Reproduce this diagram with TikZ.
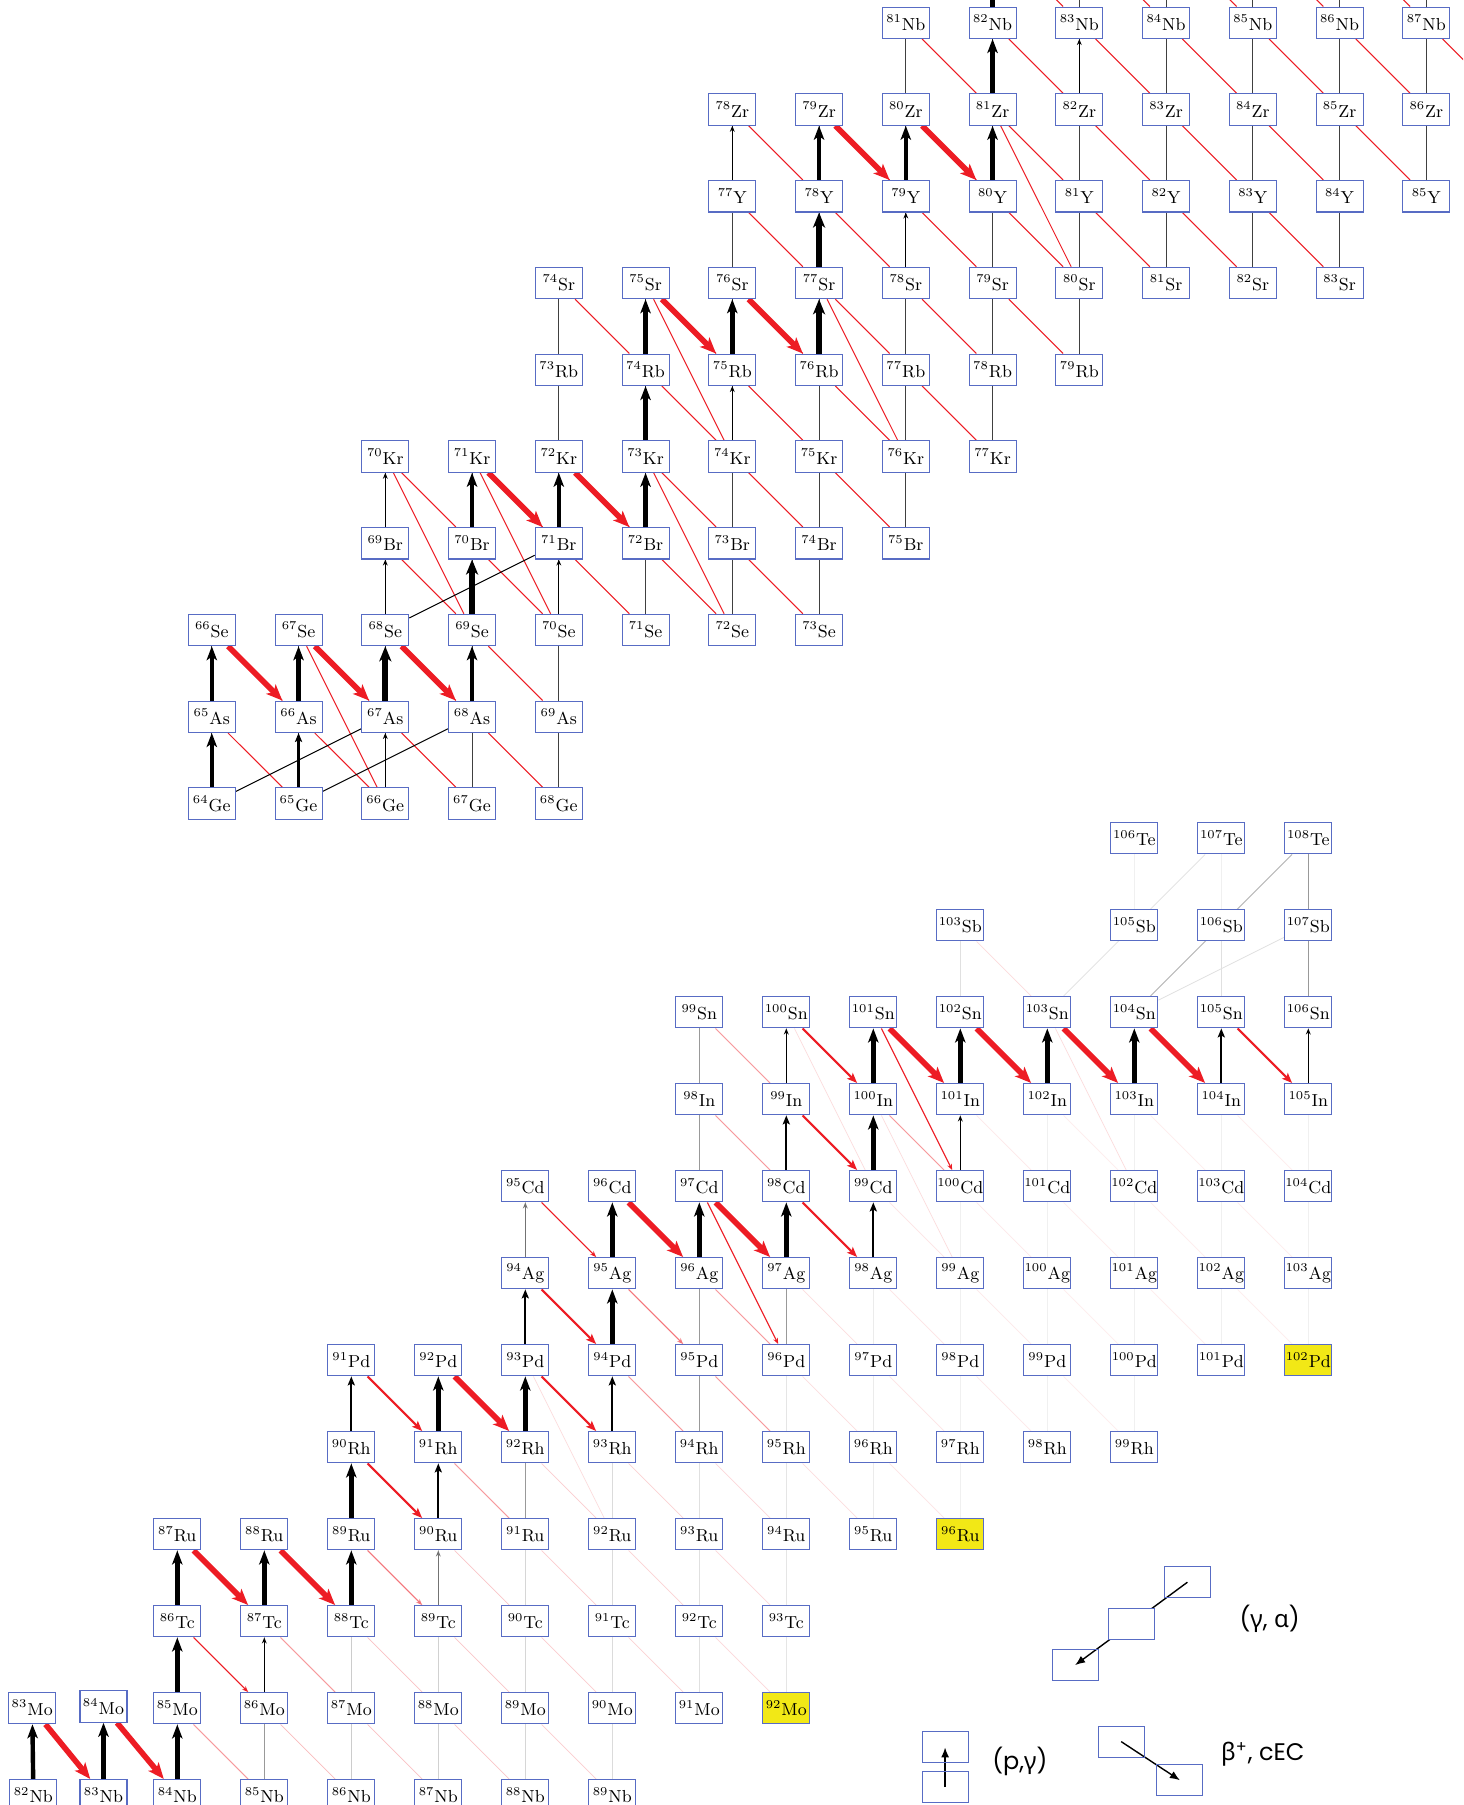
\documentclass[tikz,border=0pt]{standalone}
\usepackage{fontspec}
\newfontfamily\legfont{Poppins}
\newfontfamily\leggreek{Noto Sans}
\usetikzlibrary{arrows.meta}
\definecolor{nucblue}{RGB}{88,108,196}
\definecolor{nucred}{RGB}{237,28,36}
\definecolor{nucyellow}{RGB}{242,232,22}
\pgfdeclarelayer{background}
\pgfsetlayers{background,main}
\newcommand\nucfont{\fontsize{8.7}{10}\selectfont}
\newcommand\legsize{\fontsize{12}{14}\selectfont}
\tikzset{
  nuc/.style={draw=nucblue,line width=0.55pt,fill=white,minimum width=23.5pt,minimum height=15.7pt,inner sep=0pt,font=\nucfont},
  legbox/.style={draw=nucblue,line width=0.55pt,minimum width=23pt,minimum height=15.5pt,inner sep=0pt},
  pgthin/.style={draw=black!75,line width=0.5pt},
  pgA/.style={draw=black,line width=0.55pt,-{Stealth[length=3pt,width=2.4pt]}},
  pgB/.style={draw=black,line width=1.1pt,-{Stealth[length=4.5pt,width=3.6pt,inset=1pt]}},
  pgC/.style={draw=black,line width=2.2pt,-{Stealth[length=7pt,width=5.2pt,inset=1.8pt]}},
  pgD/.style={draw=black,line width=3pt,-{Stealth[length=7.5pt,width=6pt,inset=2pt]}},
  bpthin/.style={draw=nucred,line width=0.5pt},
  bpA/.style={draw=nucred,line width=0.55pt,-{Stealth[length=3pt,width=2.4pt]}},
  bpB/.style={draw=nucred,line width=1.1pt,-{Stealth[length=5pt,width=4pt,inset=1pt]}},
  bpC/.style={draw=nucred,line width=2.8pt,-{Stealth[length=8pt,width=6.6pt,inset=2pt]}},
  fv/.style={draw=black!12,line width=0.35pt},
  fr/.style={draw=nucred!16,line width=0.35pt},
  mv/.style={draw=black!40,line width=0.45pt},
  mr/.style={draw=nucred!45,line width=0.45pt},
  alphal/.style={draw=black,line width=0.5pt},
  legarrow/.style={draw=black,line width=0.7pt,-{Latex[length=5pt,width=4pt]}},
  legtext/.style={font=\legfont\legsize,inner sep=0pt},
}
\begin{document}
\begin{tikzpicture}[x=0.5pt,y=-0.5pt]
\useasboundingbox (0,0) rectangle (1463,1805);
% ---------- top network nodes ----------
\foreach \el/\Z/\ua/\ub in {Ge/32/32/36, As/33/32/36, Se/34/32/39, Br/35/34/40, Kr/36/34/41, Rb/37/36/42, Sr/38/36/45, Y/39/38/46, Zr/40/38/46, Nb/41/40/46}{
  \foreach \N in {\ua,...,\ub}{
    \pgfmathtruncatemacro\A{\Z+\N}
    \node[nuc] (T\A\el) at ({211.8+86.75*(\N-32)},{803.5-86.75*(\Z-32)}) {$^{\A}$\el};
  }
}
\foreach \N in {41,...,46}{
  \pgfmathtruncatemacro\A{42+\N}
  \coordinate (TMo\A) at ({211.8+86.75*(\N-32)},{803.5-86.75*10});
}
\coordinate (TZr87) at ({211.8+86.75*15},{803.5-86.75*8});
% ---------- bottom network nodes ----------
\foreach \el/\Z/\ua/\ub in {Nb/41/43/48, Mo/42/43/49, Tc/43/43/50, Ru/44/43/51, Rh/45/45/54, Pd/46/45/55, Ag/47/47/56, Cd/48/47/56, In/49/49/56, Sn/50/49/56, Sb/51/54/56, Te/52/54/56}{
  \foreach \N in {\ua,...,\ub}{
    \pgfmathtruncatemacro\A{\Z+\N}
    \node[nuc] (B\A\el) at ({177.3+87*(\N-43)},{1708.2-87*(\Z-42)}) {$^{\A}$\el};
  }
}
\node[nuc] (B103Sb) at (960.3,925.2) {$^{103}$Sb};
\node[nuc,fill=nucyellow] (B92Mo) at (786.3,1708.2) {$^{92}$Mo};
\node[nuc,fill=nucyellow] (B96Ru) at (960.3,1534.2) {$^{96}$Ru};
\node[nuc,fill=nucyellow] (B102Pd) at (1308.3,1360.2) {$^{102}$Pd};
\node[nuc] (B83Mo) at (32.2,1708) {$^{83}$Mo};
\node[nuc] (B84Mo) at (103.5,1706.5) {$^{84}$Mo};
\node[nuc] (B82Nb) at (33.4,1795.2) {$^{82}$Nb};
\node[nuc] (B83Nb) at (103.5,1795.2) {$^{83}$Nb};
% ---------- legend ----------
\node[legbox] (Lga1) at (1187.4,1582.2) {};
\node[legbox,fill=white] (Lga2) at (1131.5,1623.7) {};
\node[legbox] (Lga3) at (1075.1,1665.1) {};
\node[legtext] (Lgat) at (1269.7,1618.4) {({\leggreek γ}, {\leggreek α})};
\node[legbox] (Lpg1) at (945.1,1747.4) {};
\node[legbox] (Lpg2) at (945.1,1787.1) {};
\node[legtext] (Lpgt) at (1019.9,1761.2) {(p,{\leggreek γ})};
\node[legbox] (Lbp1) at (1121.2,1741.6) {};
\node[legbox] (Lbp2) at (1179.9,1780.2) {};
\node[legtext] (Lbpt) at (1262.8,1754.3) {{\leggreek β}\textsuperscript{+}, cEC};
% ---------- connectors ----------
\begin{pgfonlayer}{background}
\fill[white] (0,0) rectangle (1463,1805);
\clip (0,0) rectangle (1463,1805);
% legend arrows
\draw[legarrow] (Lga1.center) -- (Lga3.center);
\draw[legarrow] (Lpg2.center) -- (Lpg1.center);
\draw[legarrow] (Lbp1.center) -- (Lbp2.center);
% top: thin (p,gamma) lines
\foreach \lo/\hi/\Z/\ua/\ub in {Ge/As/32/32/36, As/Se/33/32/36, Se/Br/34/34/39, Br/Kr/35/34/40, Kr/Rb/36/36/41, Rb/Sr/37/36/42, Sr/Y/38/38/45, Y/Zr/39/38/46, Zr/Nb/40/40/46}{
  \foreach \N in {\ua,...,\ub}{
    \pgfmathtruncatemacro\A{\Z+\N}
    \pgfmathtruncatemacro\B{\A+1}
    \draw[pgthin] (T\A\lo) -- (T\B\hi);
  }
}
% top: thin beta+ lines
\foreach \hi/\lo/\Z/\ua/\ub in {As/Ge/33/32/35, Se/As/34/32/35, Br/Se/35/34/38, Kr/Br/36/34/39, Rb/Kr/37/37/40, Sr/Rb/38/36/41, Y/Sr/39/38/44, Zr/Y/40/38/45, Nb/Zr/41/40/45}{
  \foreach \N in {\ua,...,\ub}{
    \pgfmathtruncatemacro\A{\Z+\N}
    \draw[bpthin] (T\A\hi) -- (T\A\lo);
  }
}
% top: stubs leaving the picture
\foreach \A in {84,...,88}{
  \pgfmathtruncatemacro\B{\A-1}
  \draw[pgthin] (T\B Nb) -- (TMo\A);
}
\draw[pgC] (T82Nb) -- (TMo83);
\foreach \A in {83,...,87}{\draw[bpthin] (TMo\A) -- (T\A Nb);}
\draw[bpthin] (T87Nb) -- (TZr87);
% top: beta-delayed protons
\foreach \ua/\ub in {T67Se/T66Ge, T70Kr/T69Se, T71Kr/T70Se, T73Kr/T72Se, T75Sr/T74Kr, T77Sr/T76Kr, T81Zr/T80Sr}{\draw[bpthin] (\ua) -- (\ub);}
% top: alpha,p
\foreach \ua/\ub in {T64Ge/T67As, T65Ge/T68As, T68Se/T71Br}{\draw[alphal] (\ua) -- (\ub);}
% top: strong flows
\foreach \ua/\ub in {T66Ge/T67As, T68Se/T69Br, T69Br/T70Kr, T70Se/T71Br, T74Kr/T75Rb, T77Y/T78Zr, T78Sr/T79Y, T82Zr/T83Nb}{\draw[pgA] (\ua) -- (\ub);}
\draw[pgB] (T65Ge) -- (T66As);
\foreach \ua/\ub in {T64Ge/T65As, T65As/T66Se, T66As/T67Se, T68As/T69Se, T70Br/T71Kr, T71Br/T72Kr, T72Br/T73Kr, T73Kr/T74Rb, T74Rb/T75Sr, T75Rb/T76Sr, T78Y/T79Zr, T79Y/T80Zr, T80Y/T81Zr, T81Zr/T82Nb}{\draw[pgC] (\ua) -- (\ub);}
\foreach \ua/\ub in {T67As/T68Se, T69Se/T70Br, T76Rb/T77Sr, T77Sr/T78Y}{\draw[pgD] (\ua) -- (\ub);}
\foreach \ua/\ub in {T66Se/T66As, T67Se/T67As, T68Se/T68As, T71Kr/T71Br, T72Kr/T72Br, T75Sr/T75Rb, T76Sr/T76Rb, T79Zr/T79Y, T80Zr/T80Y}{\draw[bpC] (\ua) -- (\ub);}
% bottom: faint (p,gamma) lines, fading to the right
\foreach \lo/\hi/\Z/\ua/\ub in {Nb/Mo/41/43/48, Mo/Tc/42/43/50, Tc/Ru/43/43/50, Ru/Rh/44/45/52, Rh/Pd/45/45/54, Pd/Ag/46/47/56, Ag/Cd/47/47/56, Cd/In/48/49/56, In/Sn/49/49/56, Sb/Te/51/54/56}{
  \foreach \N in {\ua,...,\ub}{
    \pgfmathtruncatemacro\A{\Z+\N}
    \pgfmathtruncatemacro\B{\A+1}
    \pgfmathtruncatemacro\lev{max(6,22-2*(\N-44))}
    \draw[fv,draw=black!\lev] (B\A\lo) -- (B\B\hi);
  }
}
\foreach \ua/\ub in {B102Sn/B103Sb, B105Sn/B106Sb}{\draw[fv] (\ua) -- (\ub);}
% bottom: faint beta+ lines, fading to the right
\foreach \hi/\lo/\Z/\ua/\ub in {Mo/Nb/42/43/47, Tc/Mo/43/43/49, Ru/Tc/44/43/49, Rh/Ru/45/45/51, Pd/Rh/46/45/53, Ag/Pd/47/47/55, Cd/Ag/48/47/55, In/Cd/49/49/55, Sn/In/50/49/55}{
  \foreach \N in {\ua,...,\ub}{
    \pgfmathtruncatemacro\A{\Z+\N}
    \pgfmathtruncatemacro\lev{max(8,30-2.5*(\N-44))}
    \draw[fr,draw=nucred!\lev] (B\A\hi) -- (B\A\lo);
  }
}
\draw[fr] (B103Sb) -- (B103Sn);
\foreach \ua/\ub in {B100Sn/B99Cd, B103Sn/B102Cd, B93Pd/B92Ru, B100In/B99Ag}{\draw[fr] (\ua) -- (\ub);}
% bottom: alpha lines
\draw[draw=black!30,line width=0.45pt] (B108Te) -- (B104Sn);
\draw[fv] (B107Te) -- (B103Sn);
\draw[fv] (B107Sb) -- (B104Sn);
% bottom: medium lines
\foreach \ua/\ub in {B85Nb/B86Mo, B91Ru/B92Rh, B94Rh/B95Pd, B95Pd/B96Ag, B96Pd/B97Ag, B97Cd/B98In, B98In/B99Sn, B106Sn/B107Sb, B107Sb/B108Te}{\draw[mv] (\ua) -- (\ub);}
\foreach \ua/\ub in {B85Mo/B85Nb, B91Rh/B91Ru, B94Pd/B94Rh, B96Ag/B96Pd, B98In/B98Cd, B99Sn/B99In, B100In/B100Cd, B87Tc/B87Mo, B95Pd/B95Rh}{\draw[mr] (\ua) -- (\ub);}
% bottom: strong flows
\foreach \ua/\ub in {B99In/B100Sn, B100Cd/B101In, B105In/B106Sn, B86Mo/B87Tc}{\draw[pgA] (\ua) -- (\ub);}
\foreach \ua/\ub in {B94Ag/B95Cd, B89Tc/B90Ru}{\draw[pgA,draw=black!55] (\ua) -- (\ub);}
\foreach \ua/\ub in {B90Rh/B91Pd, B90Ru/B91Rh, B93Pd/B94Ag, B93Rh/B94Pd, B98Ag/B99Cd, B98Cd/B99In, B104In/B105Sn}{\draw[pgB] (\ua) -- (\ub);}
\foreach \ua/\ub in {B82Nb/B83Mo, B83Nb/B84Mo, B84Nb/B85Mo, B85Mo/B86Tc, B86Tc/B87Ru, B87Tc/B88Ru, B88Tc/B89Ru, B89Ru/B90Rh, B91Rh/B92Pd, B92Rh/B93Pd, B94Pd/B95Ag, B95Ag/B96Cd, B96Ag/B97Cd, B97Ag/B98Cd, B99Cd/B100In, B100In/B101Sn, B101In/B102Sn, B102In/B103Sn, B103In/B104Sn}{\draw[pgC] (\ua) -- (\ub);}
\foreach \ua/\ub in {B86Tc/B86Mo, B95Cd/B95Ag, B97Cd/B96Pd, B101Sn/B100Cd}{\draw[bpA] (\ua) -- (\ub);}
\foreach \ua/\ub in {B95Ag/B95Pd, B89Ru/B89Tc}{\draw[bpA,draw=nucred!60] (\ua) -- (\ub);}
\foreach \ua/\ub in {B90Rh/B90Ru, B91Pd/B91Rh, B93Pd/B93Rh, B94Ag/B94Pd, B98Cd/B98Ag, B99In/B99Cd, B100Sn/B100In, B105Sn/B105In}{\draw[bpB] (\ua) -- (\ub);}
\foreach \ua/\ub in {B83Mo/B83Nb, B84Mo/B84Nb, B87Ru/B87Tc, B88Ru/B88Tc, B92Pd/B92Rh, B96Cd/B96Ag, B97Cd/B97Ag, B101Sn/B101In, B102Sn/B102In, B103Sn/B103In, B104Sn/B104In}{\draw[bpC] (\ua) -- (\ub);}
\end{pgfonlayer}
\end{tikzpicture}
\end{document}
